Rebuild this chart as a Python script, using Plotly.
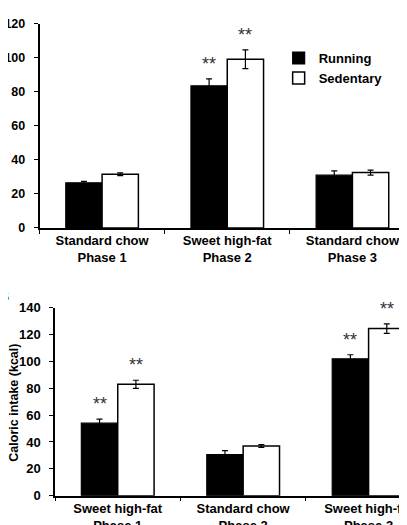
import plotly.graph_objects as go
from plotly.subplots import make_subplots

# panel A (top)
cats_a = ["Standard chow<br>Phase 1", "Sweet high-fat<br>Phase 2", "Standard chow<br>Phase 3"]
run_a = [26.5, 83.5, 31]
run_a_err = [0.8, 4, 2.5]
sed_a = [31.5, 99, 32.5]
sed_a_err = [0.8, 5.5, 1.5]
stars_run_a = ["", "**", ""]
stars_sed_a = ["", "**", ""]

# panel B (bottom)
cats_b = ["Sweet high-fat<br>Phase 1", "Standard chow<br>Phase 2", "Sweet high-fat<br>Phase 3"]
run_b = [54, 30.5, 102]
run_b_err = [3, 3, 3]
sed_b = [83, 37, 124.5]
sed_b_err = [3, 1, 3.5]
stars_run_b = ["**", "", "**"]
stars_sed_b = ["**", "", "**"]

FONT = "Liberation Sans"
W, H = 407, 525
GAP = 0.42

fig = make_subplots(rows=2, cols=1)

def add_bars(row, cats, run, run_err, sed, sed_err, legend):
    fig.add_trace(go.Bar(x=cats, y=run, name="Running", showlegend=legend,
                         marker=dict(color="black", line=dict(color="black", width=1.2)),
                         error_y=dict(type="data", array=run_err, color="black", thickness=1.2, width=3)),
                  row=row, col=1)
    fig.add_trace(go.Bar(x=cats, y=sed, name="Sedentary", showlegend=legend,
                         marker=dict(color="white", line=dict(color="black", width=1.5)),
                         error_y=dict(type="data", array=sed_err, color="black", thickness=1.2, width=3)),
                  row=row, col=1)

add_bars(1, cats_a, run_a, run_a_err, sed_a, sed_a_err, True)
add_bars(2, cats_b, run_b, run_b_err, sed_b, sed_b_err, False)

off = (1 - GAP) / 4
def add_stars(xref, yref, vals, errs, stars, shift):
    for i, (v, e, s) in enumerate(zip(vals, errs, stars)):
        if s:
            fig.add_annotation(x=i + shift, y=v + e, xref=xref, yref=yref, text=s,
                               showarrow=False, yanchor="middle", yshift=15,
                               font=dict(family=FONT, size=18, color="#333"))

add_stars("x", "y", run_a, run_a_err, stars_run_a, -off)
add_stars("x", "y", sed_a, sed_a_err, stars_sed_a, off)
add_stars("x2", "y2", run_b, run_b_err, stars_run_b, -off)
add_stars("x2", "y2", sed_b, sed_b_err, stars_sed_b, off)

axis_common = dict(showline=True, linecolor="black", linewidth=1.5, showgrid=False,
                   zeroline=False, ticks="outside", ticklen=4, tickcolor="black")

fig.update_xaxes(axis_common, type="category", tickson="boundaries",
                 tickfont=dict(family=FONT, size=13, color="black", weight="bold"))
fig.update_xaxes(domain=[31.5 / W, 1], range=[-0.5, 2.5], row=1, col=1)
fig.update_xaxes(domain=[47 / W, 1], range=[-0.5, 2.37], row=2, col=1)

fig.update_yaxes(axis_common, ticklabelstandoff=6, automargin=False)
fig.update_yaxes(domain=[(H - 226) / H, (H - 16) / H], range=[0, 120], dtick=20,
                 tickfont=dict(family=FONT, size=12.5, color="black", weight="bold"), row=1, col=1)
fig.update_yaxes(domain=[(H - 501) / H, (H - 308) / H], range=[0, 140], dtick=20,
                 tickfont=dict(family=FONT, size=13, color="black", weight="bold"), row=2, col=1)

fig.add_annotation(x=6.5 / W, y=(H - 406) / H, xref="paper", yref="paper",
                   text="<b>Caloric intake (kcal)</b>", textangle=-90, showarrow=False,
                   xanchor="center", yanchor="middle",
                   font=dict(family=FONT, size=12.5, color="black"))
fig.add_annotation(x=3 / W, y=(H - 296) / H, xref="paper", yref="paper",
                   text="<b>B</b>", showarrow=False, xanchor="right", yanchor="middle",
                   font=dict(family=FONT, size=14, color="black"))

fig.update_layout(
    width=W, height=H,
    margin=dict(l=0, r=0, t=0, b=0),
    barmode="group", bargap=GAP, bargroupgap=0,
    paper_bgcolor="white", plot_bgcolor="white",
    font=dict(family=FONT, color="black"),
    legend=dict(x=0.665, y=(H - 36) / H, xanchor="left", yanchor="top",
                bgcolor="rgba(0,0,0,0)", font=dict(family=FONT, size=13, color="black", weight="bold"),
                tracegroupgap=0),
)

fig.write_html("out.html")
